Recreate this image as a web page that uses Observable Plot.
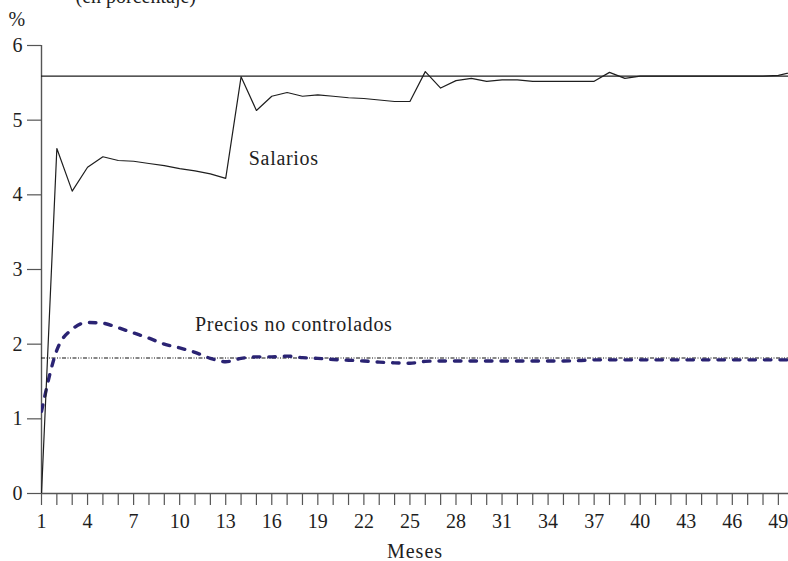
<!DOCTYPE html>
<html>
<head>
<meta charset="utf-8">
<script src="https://cdn.jsdelivr.net/npm/d3@7"></script>
<script src="https://cdn.jsdelivr.net/npm/@observablehq/plot@0.6"></script>
<style>
  html, body { margin: 0; padding: 0; background: #fff; }
  .lbl text { letter-spacing: 0.7px; }
  .xlab text { letter-spacing: 1px; }
</style>
</head>
<body>
<div id="chart"></div>
<script>
const months = [1,2,3,4,5,6,7,8,9,10,11,12,13,14,15,16,17,18,19,20,21,22,23,24,25,26,27,28,29,30,31,32,33,34,35,36,37,38,39,40,41,42,43,44,45,46,47,48,49,50];
const salarios = [0,4.62,4.05,4.37,4.51,4.46,4.45,4.42,4.39,4.35,4.32,4.28,4.22,5.58,5.13,5.32,5.37,5.32,5.34,5.32,5.30,5.29,5.27,5.25,5.25,5.65,5.43,5.53,5.56,5.52,5.54,5.54,5.52,5.52,5.52,5.52,5.52,5.64,5.56,5.59,5.59,5.59,5.59,5.59,5.59,5.59,5.59,5.59,5.60,5.65];
const precios = [1.10,1.92,2.20,2.29,2.28,2.22,2.15,2.08,2.00,1.95,1.89,1.81,1.765,1.81,1.83,1.83,1.84,1.82,1.81,1.795,1.785,1.775,1.76,1.75,1.745,1.77,1.775,1.775,1.775,1.775,1.775,1.775,1.775,1.775,1.775,1.78,1.79,1.79,1.79,1.79,1.79,1.79,1.79,1.79,1.79,1.79,1.79,1.79,1.79,1.79];
const salarioRef = 5.59;
const precioRef = 1.815;
const xTicks = [1,2,3,4,5,6,7,8,9,10,11,12,13,14,15,16,17,18,19,20,21,22,23,24,25,26,27,28,29,30,31,32,33,34,35,36,37,38,39,40,41,42,43,44,45,46,47,48,49];
const xTickLabels = [1,4,7,10,13,16,19,22,25,28,31,34,37,40,43,46,49];
const yTicks = [0,1,2,3,4,5,6];
const labelText = ["Salarios", "Precios no controlados"];
const labelX = [14.5, 11.0];
const labelY = [4.40, 2.18];
const titleText = "(en porcentaje)";
const unitText = "%";
const xLabel = "Meses";

const salData = months.map((m, i) => ({m, v: salarios[i]}));
const preData = months.map((m, i) => ({m, v: precios[i]}));
const labels = labelText.map((t, i) => ({t, x: labelX[i], y: labelY[i]}));

const axisColor = "#555";
const ink = "#1e1e1e";

const chart = Plot.plot({
  width: 788,
  height: 561,
  marginLeft: 41,
  marginRight: 0,
  marginTop: 45,
  marginBottom: 68,
  style: {fontFamily: "'Liberation Serif', 'DejaVu Serif', serif", fontSize: "20px", color: ink, background: "#fff"},
  x: {domain: [1, 49.66]},
  y: {domain: [0, 6]},
  marks: [
    Plot.axisX({ticks: xTicks, tickSize: 12, tickPadding: 8, stroke: axisColor, strokeWidth: 1.2,
      tickFormat: d => xTickLabels.includes(d) ? String(d) : "", label: null, fill: ink}),
    Plot.axisY({ticks: yTicks, tickSize: 14, tickPadding: 5, stroke: axisColor, strokeWidth: 1.2,
      tickFormat: d => String(d), label: null, fill: ink}),
    Plot.ruleY([0], {stroke: axisColor, strokeWidth: 1.4}),
    Plot.ruleX([1], {y1: 0, y2: 6, stroke: axisColor, strokeWidth: 1.4}),
    Plot.ruleY([salarioRef], {stroke: ink, strokeWidth: 1.1}),
    Plot.ruleY([precioRef], {stroke: "#111", strokeWidth: 1.1, strokeDasharray: "4,1.5,1,1.5,1,1.5"}),
    Plot.line(preData, {x: "m", y: "v", stroke: "#2a2373", strokeWidth: 3.4, strokeDasharray: "6.5,9", curve: "monotone-x", clip: true}),
    Plot.line(salData, {x: "m", y: "v", stroke: ink, strokeWidth: 1.2, clip: true}),
    Plot.text(labels, {x: "x", y: "y", text: "t", textAnchor: "start", lineAnchor: "bottom", fill: ink, className: "lbl"}),
    Plot.text([xLabel], {frameAnchor: "bottom", dy: 64, lineAnchor: "bottom", fill: ink, className: "xlab"}),
    Plot.text([unitText], {frameAnchor: "top-left", dx: -33, dy: -20, textAnchor: "start", lineAnchor: "bottom", fill: ink}),
    Plot.text([titleText], {frameAnchor: "top-left", dx: 34, dy: -43, textAnchor: "start", lineAnchor: "bottom", fill: ink})
  ]
});
document.getElementById("chart").appendChild(chart);
</script>
</body>
</html>
